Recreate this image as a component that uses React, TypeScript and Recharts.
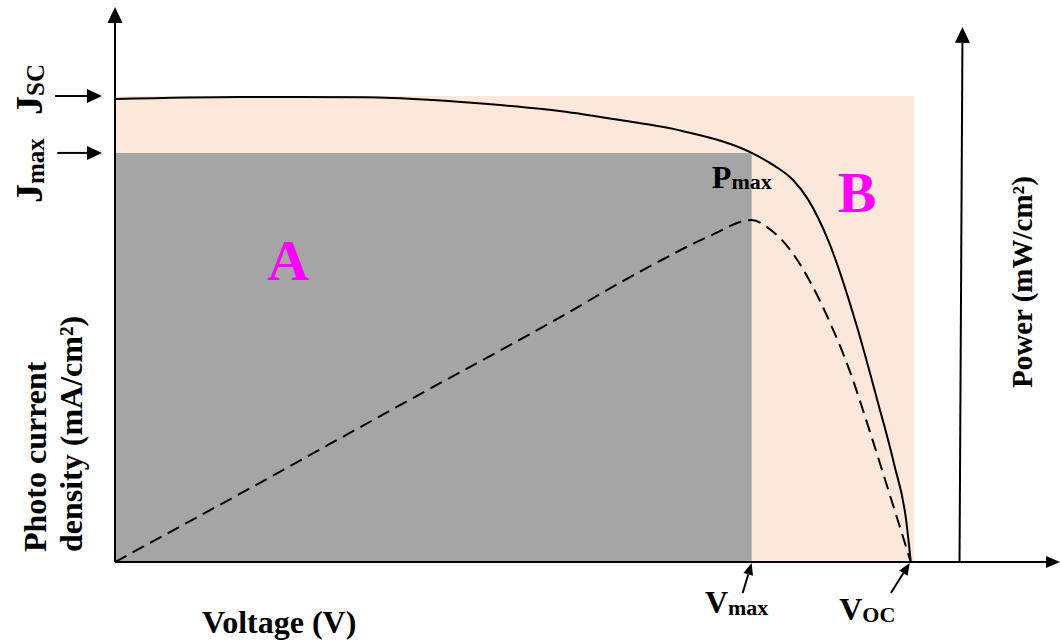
import { ComposedChart, Line, XAxis, YAxis, ReferenceArea, ReferenceLine, ReferenceDot } from 'recharts';

// J-V curve (solid)
const voltageJ = [0, 0.1257, 0.2533, 0.3197, 0.387, 0.4544, 0.5077, 0.571, 0.64, 0.6635, 0.6816, 0.6967, 0.7188, 0.746, 0.766, 0.7832, 0.7953, 0.8];
const currentJ = [20.02, 20.11, 20.1, 19.98, 19.76, 19.46, 19.11, 18.63, 17.69, 17.12, 16.52, 15.68, 13.71, 10.16, 7.05, 4.24, 1.82, 0];

// P-V curve (dashed)
const voltageP = [0, 0.136, 0.287, 0.437, 0.538, 0.598, 0.64, 0.658, 0.679, 0.699, 0.719, 0.739, 0.759, 0.779, 0.8];
const power = [0, 2.45, 5.21, 7.92, 9.81, 10.81, 11.34, 11.04, 10.34, 9.28, 7.92, 6.3, 4.31, 2.22, 0];

// key points
const vMax = 0.64;
const vOc = 0.8;
const jSc = 20.15;
const jMax = 17.69;

const jvData = voltageJ.map((v, i) => ({ v, j: currentJ[i] }));
const pvData = voltageP.map((v, i) => ({ v, p: power[i] }));

const FONT = '"Liberation Serif", "Times New Roman", serif';

const arrow = (head: number, half: number) => (props: any) => {
  const { x1, y1, x2, y2 } = props;
  const a = Math.atan2(y2 - y1, x2 - x1);
  const bx = x2 - head * Math.cos(a);
  const by = y2 - head * Math.sin(a);
  const px = -Math.sin(a) * half;
  const py = Math.cos(a) * half;
  return (
    <g>
      <line x1={x1} y1={y1} x2={bx} y2={by} stroke="#000" strokeWidth={2} />
      <polygon points={`${x2},${y2} ${bx + px},${by + py} ${bx - px},${by - py}`} fill="#000" />
    </g>
  );
};

const txt = (content: any, opts: { size?: number; fill?: string; anchor?: string; rotate?: boolean } = {}) => (props: any) => {
  const { cx, cy } = props;
  return (
    <text
      x={cx}
      y={cy}
      fontFamily={FONT}
      fontWeight="bold"
      fontSize={opts.size ?? 32}
      fill={opts.fill ?? '#000'}
      textAnchor={opts.anchor ?? 'start'}
      transform={opts.rotate ? `rotate(-90 ${cx} ${cy})` : undefined}
    >
      {content}
    </text>
  );
};

export default function App() {
  return (
    <div style={{ position: 'absolute', left: 0, top: 0, background: '#fff' }}>
      <ComposedChart width={1060} height={643} margin={{ top: 7, right: 0, bottom: 81, left: 115 }}>
        <XAxis type="number" dataKey="v" domain={[0, 0.95]} allowDataOverflow hide />
        <YAxis type="number" domain={[0, 24]} allowDataOverflow hide />
        <YAxis yAxisId="p" type="number" domain={[0, 18.4]} allowDataOverflow hide />

        <ReferenceArea x1={0} x2={vOc + 0.003} y1={0} y2={jSc} fill="#fbe8db" fillOpacity={1} stroke="none" />
        <ReferenceArea x1={0} x2={vMax} y1={0} y2={jMax} fill="#a5a5a5" fillOpacity={1} stroke="none" />

        <Line data={jvData} dataKey="j" type="monotone" stroke="#000" strokeWidth={2} dot={false} activeDot={false} isAnimationActive={false} />
        <Line data={pvData} dataKey="p" yAxisId="p" type="monotone" stroke="#000" strokeWidth={2} strokeDasharray="13 7" dot={false} activeDot={false} isAnimationActive={false} />

        {/* axes */}
        <ReferenceLine segment={[{ x: 0, y: 0 }, { x: 0.95, y: 0 }]} ifOverflow="visible" shape={arrow(14, 6)} />
        <ReferenceLine segment={[{ x: 0, y: 0 }, { x: 0, y: 24 }]} ifOverflow="visible" shape={arrow(16, 7.5)} />
        <ReferenceLine segment={[{ x: 0.849, y: 0 }, { x: 0.852, y: 23.14 }]} ifOverflow="visible" shape={arrow(16, 7.5)} />

        {/* pointer arrows */}
        <ReferenceLine segment={[{ x: -0.0603, y: jSc }, { x: -0.0131, y: jSc }]} ifOverflow="visible" shape={arrow(15, 7)} />
        <ReferenceLine segment={[{ x: -0.058, y: jMax }, { x: -0.0131, y: jMax }]} ifOverflow="visible" shape={arrow(15, 7)} />
        <ReferenceLine segment={[{ x: 0.631, y: -1.34 }, { x: vMax, y: -0.04 }]} ifOverflow="visible" shape={arrow(12, 5)} />
        <ReferenceLine segment={[{ x: 0.78, y: -1.34 }, { x: vOc - 0.001, y: -0.04 }]} ifOverflow="visible" shape={arrow(12, 5)} />

        {/* labels */}
        <ReferenceDot x={0.174} y={12.19} ifOverflow="visible" shape={txt('A', { size: 58, fill: '#ff00ff', anchor: 'middle' })} />
        <ReferenceDot x={0.746} y={15.14} ifOverflow="visible" shape={txt('B', { size: 58, fill: '#ff00ff', anchor: 'middle' })} />
        <ReferenceDot x={0.6} y={16.17} ifOverflow="visible" shape={txt(<>P<tspan fontSize={22} dy={1}>max</tspan></>)} />
        <ReferenceDot x={0.593} y={-2.21} ifOverflow="visible" shape={txt(<>V<tspan fontSize={22} dy={2}>max</tspan></>)} />
        <ReferenceDot x={0.728} y={-2.51} ifOverflow="visible" shape={txt(<>V<tspan fontSize={22} dy={2}>OC</tspan></>)} />
        <ReferenceDot x={0.0875} y={-3.07} ifOverflow="visible" shape={txt('Voltage (V)')} />
        <ReferenceDot x={-0.0734} y={19.33} ifOverflow="visible" shape={txt(<>J<tspan fontSize={25} dy={2}>SC</tspan></>, { rotate: true, size: 38 })} />
        <ReferenceDot x={-0.0734} y={15.52} ifOverflow="visible" shape={txt(<>J<tspan fontSize={25} dy={2}>max</tspan></>, { rotate: true, size: 38 })} />
        <ReferenceDot x={-0.0694} y={0.43} ifOverflow="visible" shape={txt('Photo current', { rotate: true })} />
        <ReferenceDot x={-0.0332} y={0.43} ifOverflow="visible" shape={txt('density (mA/cm²)', { rotate: true })} />
        <ReferenceDot x={0.922} y={12.11} ifOverflow="visible" shape={txt('Power (mW/cm²)', { rotate: true, anchor: 'middle', size: 29 })} />
      </ComposedChart>
    </div>
  );
}
